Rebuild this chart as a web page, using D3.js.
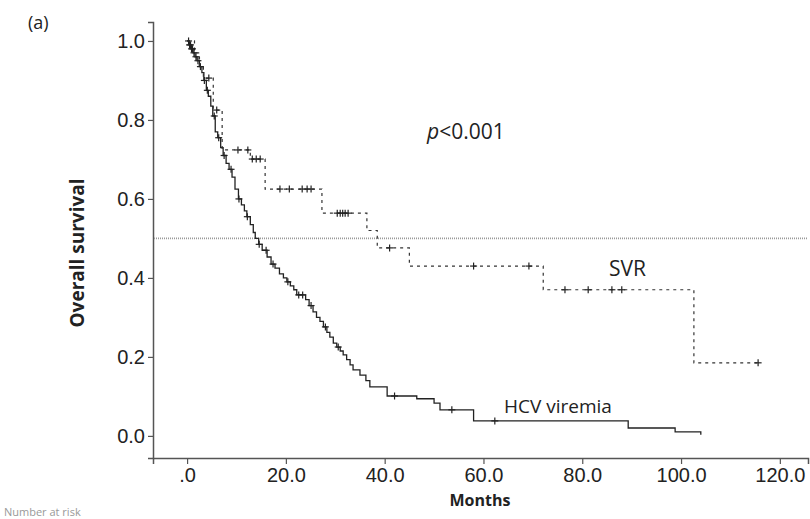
<!DOCTYPE html>
<html>
<head>
<meta charset="utf-8">
<script src="https://cdn.jsdelivr.net/npm/d3@7"></script>
<style>
  body { margin: 0; background: #fff; }
  svg { display: block; }
</style>
</head>
<body>
<svg id="chart" width="810" height="519"></svg>
<script>
// HCV viremia curve: month at which survival drops, and survival after drop
const hcvMonths = [0, 0.4, 0.8, 1.2, 1.6, 2.0, 2.5, 3.0, 3.4, 3.9, 4.3, 4.8, 5.2, 5.7, 6.2, 6.8, 7.3, 7.9, 8.5, 9.1,
  9.7, 10.4, 11.0, 11.6, 12.1, 12.8, 13.4, 13.8, 14.5, 15.2, 16.2, 17.0, 17.8, 18.7, 19.5, 20.2, 20.9, 21.6, 22.2,
  24.0, 24.7, 25.5, 26.2, 26.9, 27.6, 28.3, 28.9, 29.6, 30.3, 31.0, 31.6, 32.3, 33.0, 33.6, 35.0, 36.2, 37.0,
  40.5, 46.5, 50.0, 51.2, 58.0, 89.3, 98.8, 104.0];
const hcvSurv = [1.0, 0.99, 0.98, 0.97, 0.96, 0.95, 0.935, 0.92, 0.90, 0.875, 0.86, 0.835, 0.81, 0.77, 0.755, 0.73, 0.71, 0.69, 0.675, 0.655,
  0.625, 0.60, 0.585, 0.57, 0.555, 0.535, 0.515, 0.50, 0.485, 0.47, 0.453, 0.435, 0.425, 0.41, 0.40, 0.39, 0.38, 0.37, 0.357,
  0.345, 0.33, 0.314, 0.30, 0.29, 0.276, 0.262, 0.25, 0.235, 0.225, 0.215, 0.205, 0.193, 0.18, 0.167, 0.154, 0.14, 0.124,
  0.101, 0.094, 0.083, 0.066, 0.038, 0.02, 0.01, 0.003];
const hcvCensored = [0.3, 0.5, 0.7, 0.9, 1.1, 1.4, 1.8, 2.2, 2.7, 3.5, 4.1, 5.5, 6.4, 7.5, 8.9, 10.5, 12.2, 14.6,
  16.0, 17.4, 20.4, 22.6, 23.4, 25.1, 28.0, 30.6, 42.0, 53.6, 62.3];

// SVR curve
const svrMonths = [0, 1.5, 2.5, 3.3, 5.3, 7.1, 12.8, 15.8, 27.3, 36.4, 38.5, 45.0, 72.1, 102.6];
const svrSurv = [1.0, 0.97, 0.935, 0.906, 0.825, 0.724, 0.701, 0.625, 0.564, 0.52, 0.476, 0.43, 0.37, 0.185];
const svrEnd = 115.6;
const svrCensored = [4.4, 6.0, 10.3, 12.3, 13.2, 14.0, 14.8, 18.8, 20.7, 23.3, 24.3, 25.1, 30.4, 31.0, 31.5, 32.0, 32.6,
  41.0, 58.0, 69.2, 76.5, 81.2, 86.0, 88.0, 115.6];

const xTicks = [0, 20, 40, 60, 80, 100, 120];
const yTicks = [0, 0.2, 0.4, 0.6, 0.8, 1.0];
const medianLine = 0.5;

const svg = d3.select("#chart");

// scales fitted to axis frame
const x = d3.scaleLinear().domain([-6.9, 125.7]).range([153, 808]);
const y = d3.scaleLinear().domain([-0.056, 1.048]).range([458, 22]);

//x axis
const xAxis = svg.append("g")
    .attr("transform", "translate(0,458)")
    .call(d3.axisBottom(x).tickValues(xTicks).tickSize(6).tickPadding(4)
        .tickFormat(d => d === 0 ? ".0" : d.toFixed(1)));
//y axis
const yAxis = svg.append("g")
    .attr("transform", "translate(153,0)")
    .call(d3.axisLeft(y).tickValues(yTicks).tickSize(5).tickPadding(3)
        .tickFormat(d => d.toFixed(1)));

[xAxis, yAxis].forEach(a => {
    a.select(".domain").attr("stroke", "#555").attr("stroke-width", 1.5);
    a.selectAll(".tick line").attr("stroke", "#555").attr("stroke-width", 1.2);
    a.selectAll(".tick text").attr("fill", "#222")
        .style("font-family", "'Liberation Sans', Arial, sans-serif").style("font-size", "20px");
});

// reference line at 0.5
svg.append("line")
    .attr("x1", 154).attr("x2", 808)
    .attr("y1", y(medianLine)).attr("y2", y(medianLine))
    .attr("stroke", "#9a9a9a").attr("stroke-width", 1.6)
    .attr("stroke-dasharray", "1,1");

const stepLine = d3.line()
    .x(d => x(d[0])).y(d => y(d[1]))
    .curve(d3.curveStepAfter);

// HCV viremia (solid)
const hcvPts = hcvMonths.map((m, i) => [m, hcvSurv[i]]);
svg.append("path")
    .attr("d", stepLine(hcvPts))
    .attr("fill", "none").attr("stroke", "#222").attr("stroke-width", 1.3);

// SVR (dashed)
const svrPts = svrMonths.map((m, i) => [m, svrSurv[i]]);
svrPts.push([svrEnd, svrSurv[svrSurv.length - 1]]);
svg.append("path")
    .attr("d", stepLine(svrPts))
    .attr("fill", "none").attr("stroke", "#333").attr("stroke-width", 1.2)
    .attr("stroke-dasharray", "3,4");

// survival value at a given month
function survAt(months, surv, t) {
    const i = d3.bisectRight(months, t) - 1;
    return surv[Math.max(0, i)];
}

function drawCensors(list, months, surv) {
    const g = svg.append("g").attr("stroke", "#222").attr("stroke-width", 1.2);
    list.forEach(t => {
        const cx = x(t), cy = y(survAt(months, surv, t));
        g.append("line").attr("x1", cx).attr("x2", cx).attr("y1", cy - 3.5).attr("y2", cy + 3.5);
        g.append("line").attr("x1", cx - 3.5).attr("x2", cx + 3.5).attr("y1", cy).attr("y2", cy);
    });
}
drawCensors(hcvCensored, hcvMonths, hcvSurv);
drawCensors(svrCensored, svrMonths, svrSurv);

// texts
const labelFont = "'Open Sans', 'Noto Sans', sans-serif";
svg.append("text").attr("x", 28).attr("y", 29)
    .style("font-family", labelFont).style("font-size", "18px").attr("fill", "#222")
    .text("(a)");

const pText = svg.append("text").attr("x", 427).attr("y", 139)
    .style("font-family", labelFont).style("font-size", "21px").attr("fill", "#222");
pText.append("tspan").style("font-style", "italic").text("p");
pText.append("tspan").text("<0.001");

svg.append("text").attr("x", 609).attr("y", 276)
    .style("font-family", labelFont).style("font-size", "21px").attr("fill", "#222")
    .text("SVR");
svg.append("text").attr("x", 504).attr("y", 413)
    .style("font-family", labelFont).style("font-size", "19px").attr("fill", "#222")
    .text("HCV viremia");

svg.append("text")
    .attr("transform", "translate(84,253) rotate(-90)")
    .attr("text-anchor", "middle")
    .style("font-family", labelFont).style("font-size", "19px").style("font-weight", "bold").attr("fill", "#222")
    .text("Overall survival");

svg.append("text").attr("x", 480).attr("y", 506)
    .attr("text-anchor", "middle")
    .style("font-family", labelFont).style("font-size", "16px").style("font-weight", "bold").attr("fill", "#222")
    .text("Months");

svg.append("text").attr("x", 4).attr("y", 516)
    .style("font-family", labelFont).style("font-size", "11px").attr("fill", "#999")
    .text("Number at risk");
</script>
</body>
</html>
